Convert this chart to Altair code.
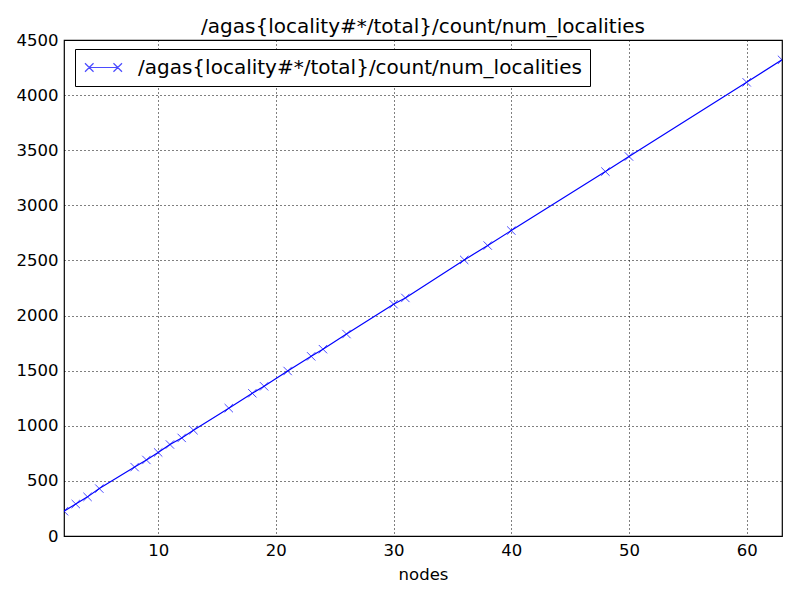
import altair as alt
import pandas as pd

nodes = [2, 3, 4, 5, 8, 9, 10, 11, 12, 13, 16, 18, 19, 21, 23, 24, 26, 30, 31, 36, 38, 40, 48, 50, 60, 63]
values = [225, 290, 355, 430, 625, 690, 758, 830, 890, 960, 1160, 1295, 1358, 1497, 1630, 1695, 1832, 2103, 2160,
          2505, 2635, 2771, 3306, 3443, 4116, 4320]
series = "/agas{locality#*/total}/count/num_localities"

df = pd.DataFrame({"nodes": nodes, "value": values, "series": [series] * len(nodes)})

FONT = "DejaVu Sans"
xshape = "M-1,-1L1,1M-1,1L1,-1"
legend_shape = ("M-1.5,0L1.5,0"
                "M-1.95,-0.45L-1.05,0.45M-1.95,0.45L-1.05,-0.45"
                "M1.05,-0.45L1.95,0.45M1.05,0.45L1.95,-0.45")

xsc = alt.Scale(domain=[2, 63], nice=False, zero=False)
ysc = alt.Scale(domain=[0, 4500], nice=False)

xax = alt.Axis(values=[10, 20, 30, 40, 50, 60], title="nodes", grid=True, gridDash=[1, 3], gridColor="black",
               gridOpacity=1, domain=False, ticks=False, labelFontSize=16.5, labelFont=FONT,
               labelColor="black", titleFont=FONT, titleFontSize=16.5, titleFontWeight="normal", titleColor="black",
               labelPadding=6, titlePadding=8, format="d")
yax = alt.Axis(values=list(range(0, 4501, 500)), title=None, grid=True, gridDash=[1, 3], gridColor="black",
               gridOpacity=1, domain=False, ticks=False, labelFontSize=16.5, labelFont=FONT,
               labelColor="black", labelPadding=6, format="d")

color = alt.Color("series:N", scale=alt.Scale(range=["#0000ff"]),
                  legend=alt.Legend(title=None, orient="none", legendX=11, legendY=9,
                                    symbolType=legend_shape, symbolSize=360, symbolStrokeWidth=1.2,
                                    symbolFillColor="transparent", labelFont=FONT, labelFontSize=20,
                                    labelColor="black", labelLimit=700, strokeColor="black", padding=8,
                                    fillColor="white", symbolOffset=10, labelOffset=24))

base = alt.Chart(df).encode(
    x=alt.X("nodes:Q", scale=xsc, axis=xax),
    y=alt.Y("value:Q", scale=ysc, axis=yax),
)
line = base.mark_line(color="#0000ff", strokeWidth=1.2, clip=True)
pts = base.mark_point(shape=xshape, size=70, filled=False, strokeWidth=1, clip=True).encode(color=color)

chart = (line + pts).properties(
    width=718, height=496,
    title=alt.TitleParams(series, font=FONT, fontSize=20, fontWeight="normal", color="black", offset=-5),
    padding={"left": 56, "top": 32, "right": 10, "bottom": 50},
    autosize=alt.AutoSizeParams(type="none"),
).configure_view(stroke="black", strokeWidth=1.2)

chart.save("out.html", embed_options={"renderer": "svg", "actions": False})
